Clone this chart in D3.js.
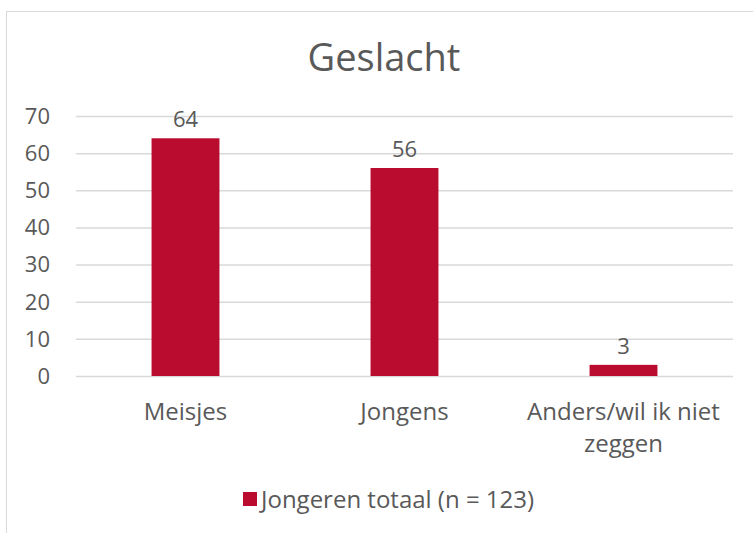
<!DOCTYPE html>
<html>
<head>
<meta charset="utf-8">
<script src="https://cdn.jsdelivr.net/npm/d3@7"></script>
<style>
	body { margin: 0; background: #fff; }
	text { font-family: "Open Sans", sans-serif; fill: #595959; }
</style>
</head>
<body>
<svg id="chart" width="753" height="533"></svg>
<script>
//------------------------------------------------------------------------------
// Data

var categories = [['Meisjes'], ['Jongens'], ['Anders/wil ik niet', 'zeggen']];
var values = [64, 56, 3];
var yTicks = [0, 10, 20, 30, 40, 50, 60, 70];
var seriesName = 'Jongeren totaal (n = 123)';
var title = 'Geslacht';

//------------------------------------------------------------------------------
// Chart

var svg = d3.select('#chart');
var red = '#ba0c2f';

svg.append('rect')
	.attr('x', 6.5).attr('y', 11.5)
	.attr('width', 760).attr('height', 540)
	.attr('fill', 'none')
	.attr('stroke', '#d9d9d9');

var x = d3.scaleBand()
	.domain(d3.range(values.length))
	.range([76, 733])
	.paddingInner(0.69)
	.paddingOuter(0.345);

var y = d3.scaleLinear().domain([0, 70]).range([376, 116]);

svg.append('text')
	.attr('x', 384).attr('y', 71)
	.attr('text-anchor', 'middle')
	.style('font-size', '38px')
	.text(title);

svg.append('g').selectAll('line')
	.data(yTicks)
	.enter().append('line')
	.attr('x1', 76).attr('x2', 733)
	.attr('y1', function (d) { return y(d) + 0.5; })
	.attr('y2', function (d) { return y(d) + 0.5; })
	.attr('stroke', '#d9d9d9')
	.attr('stroke-width', 1.5);

svg.append('g').selectAll('text')
	.data(yTicks)
	.enter().append('text')
	.attr('x', 50)
	.attr('y', function (d) { return y(d); })
	.attr('dy', '0.36em')
	.attr('text-anchor', 'end')
	.style('font-size', '22px')
	.text(function (d) { return d; });

svg.append('g').selectAll('rect')
	.data(values)
	.enter().append('rect')
	.attr('x', function (d, i) { return x(i); })
	.attr('width', x.bandwidth())
	.attr('y', function (d) { return y(d); })
	.attr('height', function (d) { return y(0) - y(d); })
	.attr('fill', red);

svg.append('g').selectAll('text')
	.data(values)
	.enter().append('text')
	.attr('x', function (d, i) { return x(i) + x.bandwidth() / 2; })
	.attr('y', function (d) { return y(d) - 11; })
	.attr('text-anchor', 'middle')
	.style('font-size', '22px')
	.text(function (d) { return d; });

var cat = svg.append('g').selectAll('text')
	.data(categories)
	.enter().append('text')
	.attr('x', function (d, i) { return x(i) + x.bandwidth() / 2; })
	.attr('y', 420)
	.attr('text-anchor', 'middle')
	.style('font-size', '24px');
cat.selectAll('tspan')
	.data(function (d) { return d; })
	.enter().append('tspan')
	.attr('x', function () { return d3.select(this.parentNode).attr('x'); })
	.attr('dy', function (d, i) { return i ? 32 : 0; })
	.text(function (d) { return d; });

var legend = svg.append('g');
legend.append('rect')
	.attr('x', 243).attr('y', 492)
	.attr('width', 14).attr('height', 14)
	.attr('fill', red);
legend.append('text')
	.attr('x', 261).attr('y', 508)
	.style('font-size', '24px')
	.text(seriesName);
</script>
</body>
</html>
